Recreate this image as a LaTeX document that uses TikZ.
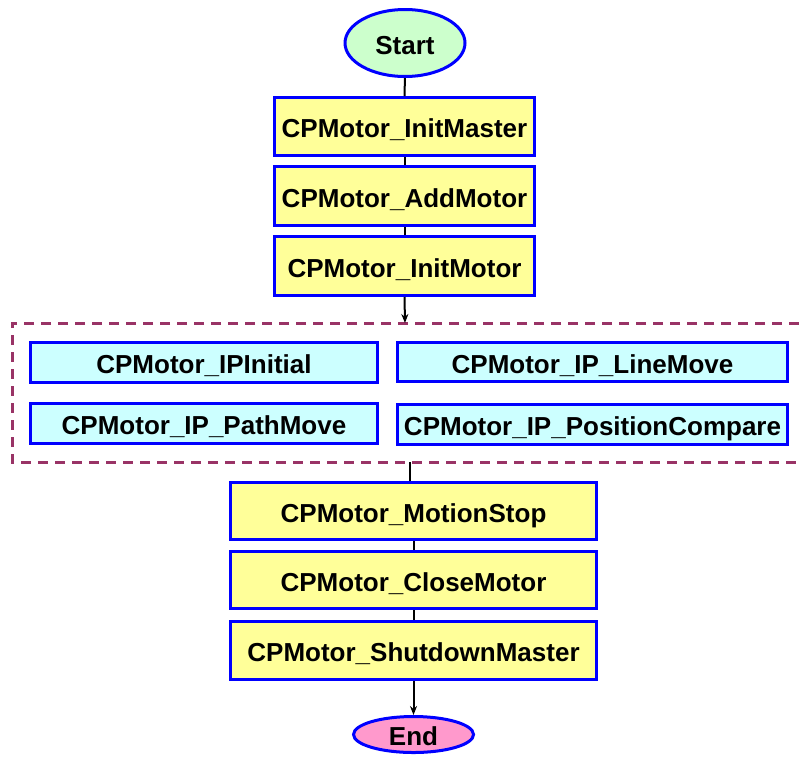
\documentclass[tikz,border=0pt]{standalone}
\usepackage{fontspec}
\setmainfont{Liberation Sans}
\usetikzlibrary{shapes.geometric,arrows.meta}
\definecolor{boxyellow}{HTML}{FFFF99}
\definecolor{boxcyan}{HTML}{CCFFFF}
\definecolor{startgreen}{HTML}{CCFFCC}
\definecolor{endpink}{HTML}{FF99CC}
\definecolor{grpline}{HTML}{993366}
\begin{document}
\begin{tikzpicture}[x=1pt,y=-1pt,
  base/.style={draw=blue, line width=3pt, inner sep=0pt, text=black,
    text height=22pt, text depth=0pt,
    font=\bfseries\fontsize{26}{30}\selectfont},
  ybox/.style={base, rectangle, fill=boxyellow},
  cbox/.style={base, rectangle, fill=boxcyan},
  term/.style={base, ellipse, minimum width=120pt},
  conn/.style={draw=black, line width=2pt},
  arr/.style={conn, -{Stealth[length=9pt,width=7pt]}},
  grp/.style={draw=grpline, line width=3pt, dash pattern=on 10pt off 7pt}
]
\useasboundingbox (0,0) rectangle (799,758);

\node[term, fill=startgreen, minimum height=67pt] (start) at (405,43) {Start};
\node[ybox, minimum width=260pt, minimum height=58pt] (initmaster) at (404.5,126.5) {CPMotor\_InitMaster};
\node[ybox, minimum width=260pt, minimum height=59pt] (addmotor) at (404.5,196) {CPMotor\_AddMotor};
\node[ybox, minimum width=260pt, minimum height=59pt] (initmotor) at (404.5,266) {CPMotor\_InitMotor};

\draw[grp] (799,323) -- (12,323) -- (12,462) -- (799,462);
\coordinate (gtop) at (405,323);
\coordinate (gbot) at (410,462);

\node[cbox, minimum width=347pt, minimum height=40pt] (ipinit) at (204,362.5) {CPMotor\_IPInitial};
\node[cbox, minimum width=347pt, minimum height=40pt] (pathmove) at (204,423.5) {CPMotor\_IP\_PathMove};
\node[cbox, minimum width=390pt, minimum height=39pt] (linemove) at (592.5,362) {CPMotor\_IP\_LineMove};
\node[cbox, minimum width=390pt, minimum height=40pt] (poscomp) at (592.5,424) {CPMotor\_IP\_PositionCompare};

\node[ybox, minimum width=366pt, minimum height=57pt] (motionstop) at (413.5,511) {CPMotor\_MotionStop};
\node[ybox, minimum width=366pt, minimum height=57pt] (closemotor) at (413.5,580) {CPMotor\_CloseMotor};
\node[ybox, minimum width=366pt, minimum height=58pt] (shutdown) at (413.5,650.5) {CPMotor\_ShutdownMaster};
\node[term, fill=endpink, minimum height=36pt] (end) at (413.5,734.5) {End};

\draw[conn] (start) -- (initmaster);
\draw[conn] (initmaster) -- (addmotor);
\draw[conn] (addmotor) -- (initmotor);
\draw[arr] (initmotor.south) -- (gtop);
\draw[conn] (gbot) -- (gbot |- motionstop.north);
\draw[conn] (motionstop) -- (closemotor);
\draw[conn] (closemotor) -- (shutdown);
\draw[arr] (shutdown) -- (end);
\end{tikzpicture}
\end{document}
